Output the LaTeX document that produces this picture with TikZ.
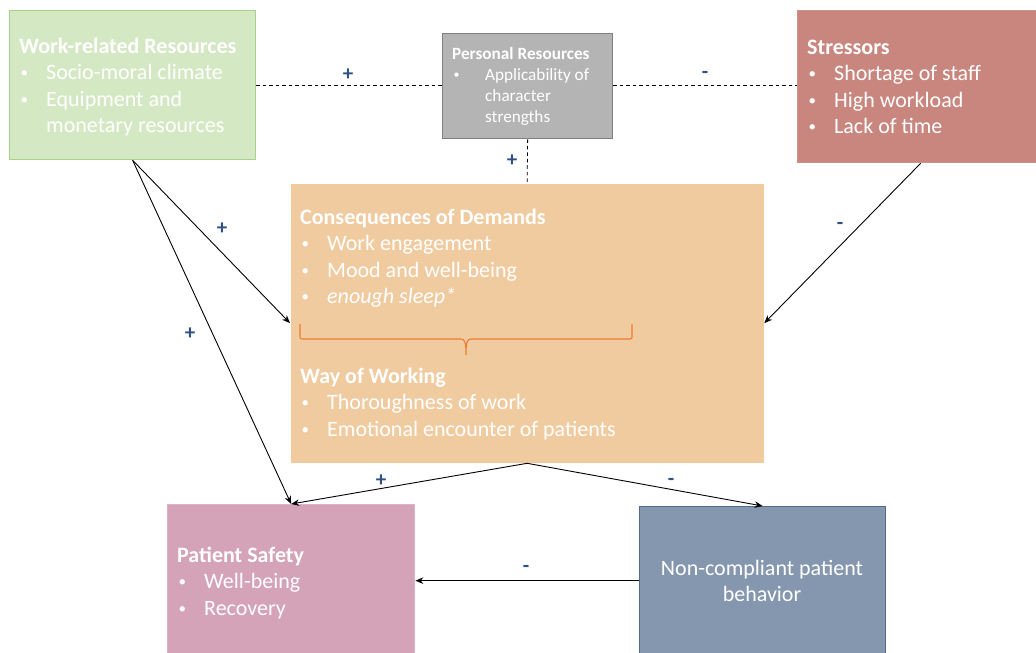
\documentclass[tikz,border=0pt]{standalone}
\usepackage{fontspec}
\setmainfont{Carlito}
\usetikzlibrary{arrows.meta}

\definecolor{wrfill}{HTML}{D5E8C4}
\definecolor{wrline}{HTML}{A9D18E}
\definecolor{prfill}{HTML}{B4B4B4}
\definecolor{prline}{HTML}{7F7F7F}
\definecolor{stfill}{HTML}{C9867E}
\definecolor{stline}{HTML}{D09088}
\definecolor{cdfill}{HTML}{F1CBA0}
\definecolor{psfill}{HTML}{D4A3B8}
\definecolor{psline}{HTML}{DDB3C5}
\definecolor{ncfill}{HTML}{8497AF}
\definecolor{ncline}{HTML}{56698A}
\definecolor{signcol}{HTML}{2F5186}
\definecolor{bracecol}{HTML}{ED7D31}

% bullet items: large boxes and the small personal-resources box
\newcommand\bdot[1]{\raisebox{#1}{\fontsize{15}{15}\selectfont •}}
\newcommand\bitem[1]{\makebox[27pt][l]{\hspace{1.5pt}\bdot{2pt}}#1}
\newcommand\bcont[1]{\hspace*{27pt}#1}
\newcommand\sitem[1]{\makebox[33pt][l]{\hspace{1.5pt}\raisebox{1.5pt}{\fontsize{12}{12}\selectfont •}}#1}
\newcommand\scont[1]{\hspace*{33pt}#1}

\begin{document}
\begin{tikzpicture}[x=1pt,y=-1pt,
  box/.style={rectangle, anchor=north west, inner sep=0, line width=1.3pt},
  txt/.style={anchor=north west, inner sep=0, align=left, text=white,
    font=\fontsize{22}{26.5}\selectfont},
  smalltxt/.style={anchor=north west, inner sep=0, align=left, text=white,
    font=\fontsize{17.2}{21}\selectfont},
  conn/.style={-{Stealth[length=8pt,width=6.5pt]}, line width=0.9pt},
  dashconn/.style={dashed, dash pattern=on 3.5pt off 3pt, line width=0.8pt},
  sign/.style={text=signcol, inner sep=0, font=\fontsize{21}{21}\selectfont\bfseries}]

\useasboundingbox (0,0) rectangle (1036,653);
\clip (0,0) rectangle (1036,653);

% boxes
\node[box, fill=wrfill, draw=wrline, minimum width=246pt, minimum height=149pt] (wr) at (9,10) {};
\node[box, fill=prfill, draw=prline, minimum width=170pt, minimum height=105pt] (pr) at (442,33) {};
\node[box, fill=stfill, draw=stline, minimum width=246pt, minimum height=152pt] (st) at (797,10) {};
\node[box, fill=cdfill, minimum width=473pt, minimum height=279pt] (cd) at (290,183) {};
\node[box, fill=psfill, draw=psline, minimum width=247pt, minimum height=152pt] (ps) at (167,504) {};
\node[box, fill=ncfill, draw=ncline, minimum width=246pt, minimum height=148pt] (nc) at (639,506) {};

% box texts
\node[txt] (wrtext) at (19,35) {\rule{0pt}{18pt}\textbf{Work-related Resources}\\
  \bitem{Socio-moral climate}\\ \bitem{Equipment and}\\ \bcont{monetary resources}};
\node[smalltxt] (prtext) at (452,45) {\rule{0pt}{14pt}\textbf{Personal Resources}\\
  \sitem{Applicability of}\\ \scont{character}\\ \scont{strengths}};
\node[txt] (sttext) at (807,36) {\rule{0pt}{18pt}\textbf{Stressors}\\
  \bitem{Shortage of staff}\\ \bitem{High workload}\\ \bitem{Lack of time}};
\node[txt] (cdtext) at (300,206) {\rule{0pt}{18pt}\textbf{Consequences of Demands}\\
  \bitem{Work engagement}\\ \bitem{Mood and well-being}\\ \bitem{\textit{enough sleep*}}};
\node[txt] (wwtext) at (300,365) {\rule{0pt}{18pt}\textbf{Way of Working}\\
  \bitem{Thoroughness of work}\\ \bitem{Emotional encounter of patients}};
\node[txt] (pstext) at (177,544) {\rule{0pt}{18pt}\textbf{Patient Safety}\\
  \bitem{Well-being}\\ \bitem{Recovery}};
\node[txt, anchor=north, align=center] (nctext) at (762,557) {\rule{0pt}{18pt}Non-compliant patient\\ behavior};

% brace grouping the two parts of the central box
\draw[bracecol, line width=1.1pt]
  (300,324) -- (300,335) .. controls (300,339) .. (304,339) -- (461,339)
  .. controls (465,339) and (466,343) .. (466,355)
  .. controls (466,343) and (467,339) .. (471,339) -- (628,339)
  .. controls (632,339) .. (632,335) -- (632,324);

% dashed links of personal resources
\draw[dashconn] (wr.east |- 0,85) -- (pr.west |- 0,85);
\draw[dashconn] (pr.east |- 0,85) -- (st.west |- 0,85);
\draw[dashconn] (pr.south) -- (cd.north);

% arrows
\draw[conn] (wr.south) -- (cd.west);
\draw[conn] (wr.south) -- (ps.north);
\draw[conn] (st.south) -- (cd.east);
\draw[conn] (cd.south) -- (ps.north);
\draw[conn] (cd.south) -- (nc.north);
\draw[conn] (nc.west) -- (ps.east);

% signs
\node[sign] (s1) at (348,75) {+};
\node[sign] (s2) at (705,75) {-};
\node[sign] (s3) at (512,161) {+};
\node[sign] (s4) at (222,229) {+};
\node[sign] (s5) at (840,226) {-};
\node[sign] (s6) at (190,334) {+};
\node[sign] (s7) at (381,481) {+};
\node[sign] (s8) at (671,482) {-};
\node[sign] (s9) at (526,569) {-};
\end{tikzpicture}
\end{document}
